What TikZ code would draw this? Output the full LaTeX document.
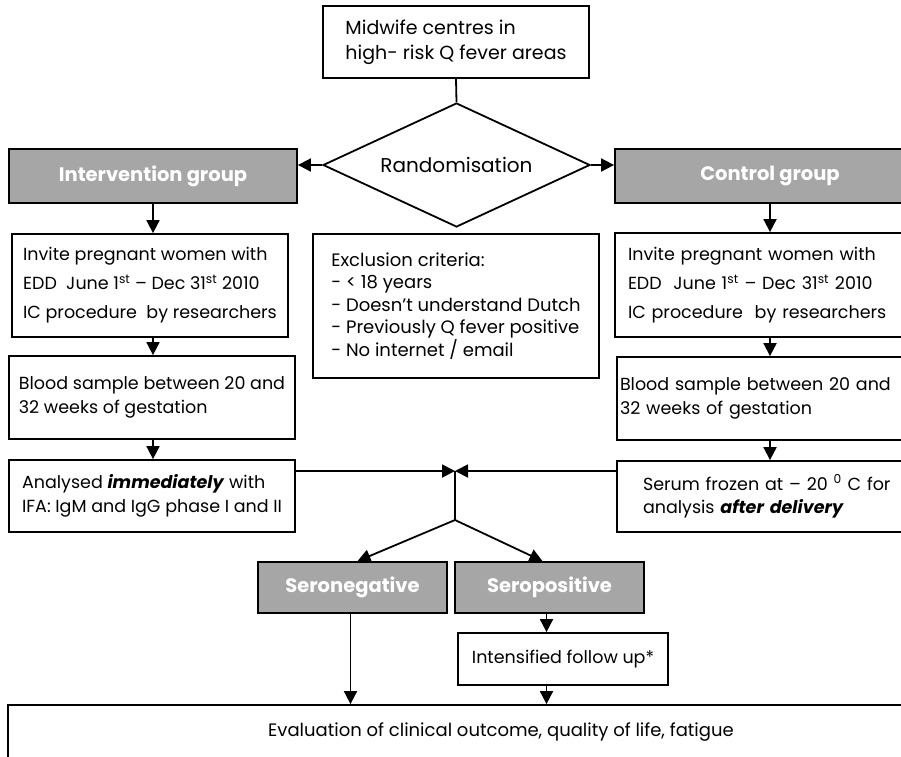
\documentclass[tikz,border=0pt]{standalone}
\usepackage{fontspec}
\setmainfont{Poppins}
\usepackage{tikz}
\usetikzlibrary{positioning}
\usetikzlibrary{arrows.meta}
\usetikzlibrary{shapes.geometric}
\definecolor{boxgray}{RGB}{166,166,166}

\begin{document}
\begin{tikzpicture}[x=1pt, y=-1pt, line width=1.8pt, >={Triangle[length=13pt,width=13pt]},
box/.style={draw, inner sep=0pt, align=left, font=\fontsize{17.5}{23.5}\selectfont},
grp/.style={draw, fill=boxgray, text=white, inner sep=0pt, font=\fontsize{19.5}{22}\selectfont\bfseries},
small/.style={draw, inner sep=0pt, font=\fontsize{17.5}{20}\selectfont}]
\useasboundingbox (0,0) rectangle (901,756);

\node [box, minimum width=266pt, minimum height=72pt, font=\fontsize{19}{25}\selectfont] (top) at (456,42) {Midwife centres in\\high- risk Q fever areas};
\node [draw, diamond, aspect=2.15, inner sep=0pt, minimum width=267pt, minimum height=124pt, font=\fontsize{20}{22}\selectfont] (rand) at (456.5,165) {Randomisation};

\node [grp, minimum width=288pt, minimum height=54pt] (intv) at (153,176) {Intervention group};
\node [grp, minimum width=310pt, minimum height=54pt] (ctrl) at (770,176) {Control group};

\node [box, minimum width=276pt, minimum height=103pt] (invL) at (150,285.5) {Invite pregnant women with\\[5.5pt]EDD\ \ June 1\textsuperscript{st} – Dec 31\textsuperscript{st} 2010\\[5.5pt]IC procedure\ \ by researchers};
\node [box, minimum width=286pt, minimum height=144pt, font=\fontsize{18}{22.5}\selectfont] (excl) at (456,306) {Exclusion criteria:\\- < 18 years\\- Doesn’t understand Dutch\\- Previously Q fever positive\\- No internet / email};
\node [box, text width=284pt, inner xsep=13pt, minimum height=104pt] (invR) at (770,285) {Invite pregnant women with\\[5.5pt]EDD\ \ June 1\textsuperscript{st} – Dec 31\textsuperscript{st} 2010\\[5.5pt]IC procedure\ \ by researchers};

\node [box, minimum width=286pt, minimum height=83pt] (bloodL) at (152,397.5) {Blood sample between 20 and\\32 weeks of gestation};
\node [box, text width=302pt, inner xsep=3pt, minimum height=83pt] (bloodR) at (771,398.5) {Blood sample between 20 and\\32 weeks of gestation};

\node [box, minimum width=286pt, minimum height=72pt] (anaL) at (152,496) {Analysed \textbf{\textit{immediately}} with\\IFA: IgM and IgG phase I and II};
\node [box, text width=256pt, inner xsep=26pt, minimum height=71pt] (serum) at (771,496.5) {Serum frozen at – 20 \textsuperscript{0} C for\\analysis \textbf{\textit{after delivery}}};

\node [grp, minimum width=189pt, minimum height=51pt] (neg) at (352.5,587.5) {Seronegative};
\node [grp, minimum width=189pt, minimum height=51pt] (pos) at (549.5,587.5) {Seropositive};
\node [small, minimum width=210pt, minimum height=52pt] (inten) at (563,659) {Intensified follow up*};
\node [small, minimum width=986pt, minimum height=54pt, font=\fontsize{18}{21}\selectfont] (eval) at (501,732) {Evaluation of clinical outcome, quality of life, fatigue};

\coordinate (J) at (455,471);
\coordinate (F) at (455,520);

\draw (top.south) -- (rand.north);
\draw [->] (rand.west) -- (rand.west -| intv.east);
\draw [->] (rand.east) -- (rand.east -| ctrl.west);
\draw [->] (intv.south) -- (intv.south |- invL.north);
\draw [->] (ctrl.south) -- (ctrl.south |- invR.north);
\draw [->] (intv.south |- invL.south) -- (intv.south |- bloodL.north);
\draw [->] (ctrl.south |- invR.south) -- (ctrl.south |- bloodR.north);
\draw [->] (intv.south |- bloodL.south) -- (intv.south |- anaL.north);
\draw [->] (ctrl.south |- bloodR.south) -- (ctrl.south |- serum.north);

\draw [->] (J -| anaL.east) -- (J);
\draw [->] (J -| serum.west) -- (J);
\draw (J) -- (F);
\draw [->] (F) -- ([xshift=5pt]neg.north);
\draw [->] (F) -- ([xshift=-7pt]pos.north);

\draw [->] ([xshift=-3pt]pos.south) -- ([xshift=-3pt]pos.south |- inten.north); % follow up
\draw [->] ([xshift=-3pt]pos.south |- inten.south) -- ([xshift=-3pt]pos.south |- eval.north);
\draw [->] ([xshift=-2pt]neg.south) -- ([xshift=-2pt]neg.south |- eval.north);
\end{tikzpicture}
\end{document}
